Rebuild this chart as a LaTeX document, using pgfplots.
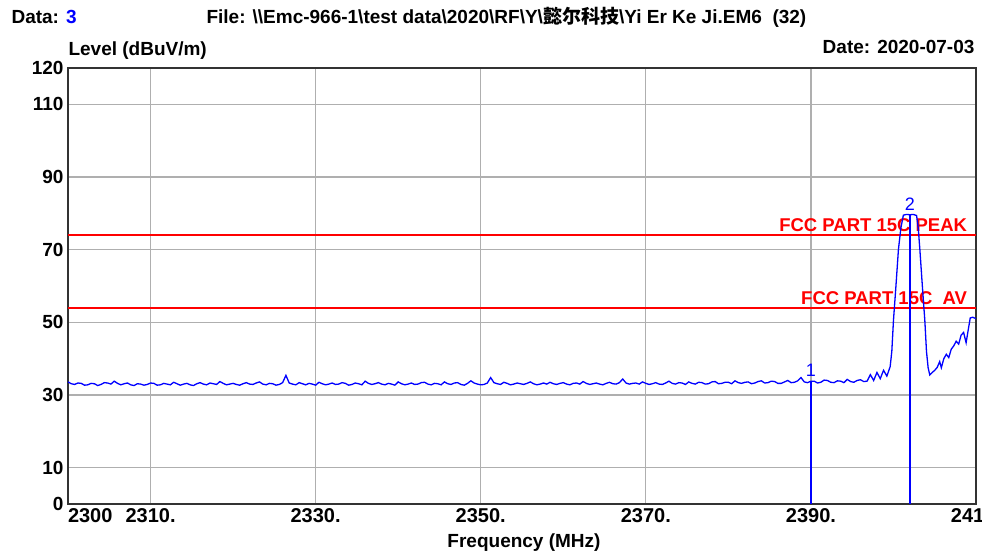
\documentclass[border=0pt]{standalone}
\usepackage{pgfplots}
\pgfplotsset{compat=1.18}
\usepackage{fontspec}
\setmainfont{Liberation Sans}
\newfontfamily\cjk{Noto Sans CJK SC}
\definecolor{gridgray}{RGB}{175,175,175}
\definecolor{trace}{RGB}{0,0,255}
\definecolor{limred}{RGB}{255,0,0}
\newcommand\bs{\textbackslash}

\pgfplotstableread{
x y
2300.0 33.6
2300.4 33.1
2300.8 32.9
2301.2 33.3
2301.6 33.2
2302.0 32.7
2302.4 32.8
2302.8 33.2
2303.2 33.1
2303.6 32.6
2304.0 32.9
2304.4 33.4
2304.8 33.3
2305.2 33.0
2305.6 33.8
2306.0 33.2
2306.4 32.8
2306.8 33.1
2307.2 33.3
2307.6 32.8
2308.0 32.6
2308.4 33.1
2308.8 33.0
2309.2 32.7
2309.6 32.9
2310.0 33.3
2310.4 33.2
2310.8 32.7
2311.2 32.8
2311.6 33.2
2312.0 33.0
2312.4 32.8
2312.8 33.5
2313.2 33.1
2313.6 32.7
2314.0 33.0
2314.4 33.2
2314.8 32.8
2315.2 32.6
2315.6 33.1
2316.0 33.4
2316.4 33.0
2316.8 32.8
2317.2 33.3
2317.6 33.1
2318.0 32.9
2318.4 33.7
2318.8 33.2
2319.2 32.8
2319.6 33.0
2320.0 33.2
2320.4 32.9
2320.8 32.7
2321.2 33.1
2321.6 33.4
2322.0 33.0
2322.4 32.9
2322.8 33.3
2323.2 33.6
2323.6 33.0
2324.0 32.8
2324.4 33.2
2324.8 33.1
2325.2 32.7
2325.6 32.9
2326.0 33.4
2326.4 35.4
2326.8 33.3
2327.2 33.0
2327.6 32.8
2328.0 33.4
2328.4 33.1
2328.8 32.8
2329.2 33.2
2329.6 33.0
2330.0 32.7
2330.4 33.5
2330.8 33.1
2331.2 32.8
2331.6 33.0
2332.0 33.3
2332.4 32.9
2332.8 33.0
2333.2 33.4
2333.6 33.2
2334.0 32.7
2334.4 32.9
2334.8 33.3
2335.2 33.1
2335.6 32.8
2336.0 33.8
2336.4 33.2
2336.8 32.9
2337.2 33.1
2337.6 33.4
2338.0 33.0
2338.4 32.8
2338.8 33.2
2339.2 33.0
2339.6 32.7
2340.0 33.6
2340.4 33.1
2340.8 32.8
2341.2 33.0
2341.6 33.3
2342.0 32.9
2342.4 33.0
2342.8 33.4
2343.2 33.5
2343.6 33.0
2344.0 32.8
2344.4 33.2
2344.8 33.1
2345.2 32.8
2345.6 33.6
2346.0 33.1
2346.4 32.9
2346.8 33.3
2347.2 33.4
2347.6 32.9
2348.0 32.7
2348.4 33.2
2348.8 33.9
2349.2 33.3
2349.6 33.0
2350.0 32.8
2350.4 32.9
2350.8 33.3
2351.2 34.8
2351.6 33.4
2352.0 33.1
2352.4 32.9
2352.8 33.5
2353.2 33.2
2353.6 32.8
2354.0 33.0
2354.4 33.3
2354.8 33.1
2355.2 32.9
2355.6 33.2
2356.0 33.6
2356.4 33.1
2356.8 32.8
2357.2 33.0
2357.6 33.3
2358.0 33.0
2358.4 33.5
2358.8 33.1
2359.2 32.9
2359.6 33.2
2360.0 33.4
2360.4 33.0
2360.8 32.8
2361.2 33.2
2361.6 33.3
2362.0 33.0
2362.4 33.7
2362.8 33.2
2363.2 32.9
2363.6 33.1
2364.0 33.3
2364.4 33.0
2364.8 32.8
2365.2 33.2
2365.6 33.5
2366.0 33.1
2366.4 33.0
2366.8 33.4
2367.2 34.4
2367.6 33.3
2368.0 33.0
2368.4 33.2
2368.8 33.3
2369.2 33.0
2369.6 33.6
2370.0 33.2
2370.4 32.9
2370.8 33.1
2371.2 33.4
2371.6 33.0
2372.0 32.9
2372.4 33.3
2372.8 33.8
2373.2 33.2
2373.6 33.0
2374.0 33.4
2374.4 33.3
2374.8 32.9
2375.2 33.6
2375.6 33.2
2376.0 33.0
2376.4 33.5
2376.8 33.4
2377.2 33.0
2377.6 33.1
2378.0 33.6
2378.4 33.7
2378.8 33.1
2379.2 33.2
2379.6 33.5
2380.0 33.5
2380.4 33.1
2380.8 33.9
2381.2 33.4
2381.6 33.2
2382.0 33.5
2382.4 33.6
2382.8 33.1
2383.2 33.3
2383.6 33.7
2384.0 33.9
2384.4 33.3
2384.8 33.4
2385.2 33.8
2385.6 33.7
2386.0 33.2
2386.4 33.2
2386.8 33.6
2387.2 34.0
2387.6 33.4
2388.0 33.5
2388.4 33.9
2388.8 34.8
2389.2 33.6
2389.6 33.4
2390.0 33.8
2390.4 33.8
2390.8 33.3
2391.2 33.5
2391.6 34.1
2392.0 34.0
2392.4 33.5
2392.8 33.4
2393.2 33.9
2393.6 33.8
2394.0 33.4
2394.4 34.3
2394.8 33.7
2395.2 33.5
2395.6 34.0
2396.0 34.2
2396.4 33.7
2396.8 33.8
2397.2 35.6
2397.6 34.0
2398.0 36.2
2398.4 34.5
2398.8 36.8
2399.2 35.2
2399.6 37.8
2399.8 42.0
2400.0 50.5
2400.3 60.0
2400.6 70.0
2400.9 76.0
2401.2 79.5
2401.6 79.7
2402.0 79.6
2402.4 79.7
2402.8 79.4
2403.0 76.0
2403.2 70.0
2403.5 60.0
2403.8 50.5
2404.0 42.0
2404.2 37.5
2404.4 35.5
2404.7 36.2
2405.0 36.8
2405.3 37.6
2405.6 39.2
2405.8 37.5
2406.1 40.0
2406.4 41.2
2406.7 40.3
2407.0 42.6
2407.3 43.5
2407.6 44.8
2407.9 44.0
2408.2 46.5
2408.5 47.2
2408.8 44.4
2409.1 48.5
2409.3 51.2
2409.6 51.4
2410.0 51.0
}\spectrum

\begin{document}
\begin{tikzpicture}[x=1pt,y=1pt]
\path[use as bounding box] (0,0) rectangle (982,553);
\begin{axis}[
  at={(68pt,49pt)}, anchor=south west,
  scale only axis, width=908pt, height=436pt,
  xmin=2300, xmax=2410, ymin=0, ymax=120,
  xtick={2300,2310,2330,2350,2370,2390,2410},
  xticklabels={\makebox[0pt][l]{2300},2310.,2330.,2350.,2370.,2390.,2410.},
  ytick={0,10,30,50,70,90,110,120},
  grid=major,
  major grid style={gridgray, line width=1.3pt},
  major tick length=0pt,
  axis line style={line width=1.6pt, black!80},
  /pgf/number format/assume math mode=true,
  xticklabel style={font=\fontsize{20}{20}\selectfont\bfseries, yshift=-1pt},
  yticklabel style={font=\fontsize{19}{19}\selectfont\bfseries, xshift=-1pt},
  clip=false,
]
% limit lines
\addplot[color=limred, line width=1.8pt] coordinates {(2300,74) (2410,74)};
\addplot[color=limred, line width=1.8pt] coordinates {(2300,54) (2410,54)};
\node[anchor=south east, text=limred, font=\fontsize{18.5}{18.5}\selectfont\bfseries, inner sep=3pt]
  at (axis cs:2409.3,74) {FCC PART 15C PEAK};
\node[anchor=south east, text=limred, font=\fontsize{18.5}{18.5}\selectfont\bfseries, inner sep=3pt]
  at (axis cs:2409.3,54) {FCC PART 15C\ \ AV};
% measured trace and markers
\addplot[trace, line width=1.3pt] table[x=x, y=y] {\spectrum};
\addplot[trace, line width=1.2pt] coordinates {(2390,0) (2390,33.8)};
\addplot[trace, line width=1.2pt] coordinates {(2402,0) (2402,79.6)};
\node[text=trace, font=\fontsize{18}{18}\selectfont] at (axis cs:2390,36.9) {1};
\node[text=trace, font=\fontsize{18}{18}\selectfont] at (axis cs:2402,82.6) {2};
\end{axis}
\node[anchor=west, font=\fontsize{19}{19}\selectfont\bfseries] at (8,536) {Data: \textcolor{trace}{3}};
\node[anchor=west, font=\fontsize{19}{19}\selectfont\bfseries] at (203,536)
  {File: \bs\bs Emc-966-1\bs test data\bs 2020\bs RF\bs Y\bs{\cjk 懿尔科技}\bs Yi Er Ke Ji.EM6\ \ (32)};
\node[anchor=east, font=\fontsize{19}{19}\selectfont\bfseries] at (978,506) {Date: 2020-07-03};
\node[anchor=west, font=\fontsize{19}{19}\selectfont\bfseries] at (65,502) {Level (dBuV/m)};
\node[font=\fontsize{19}{19}\selectfont\bfseries] at (524,10) {Frequency (MHz)};
\end{tikzpicture}
\end{document}
